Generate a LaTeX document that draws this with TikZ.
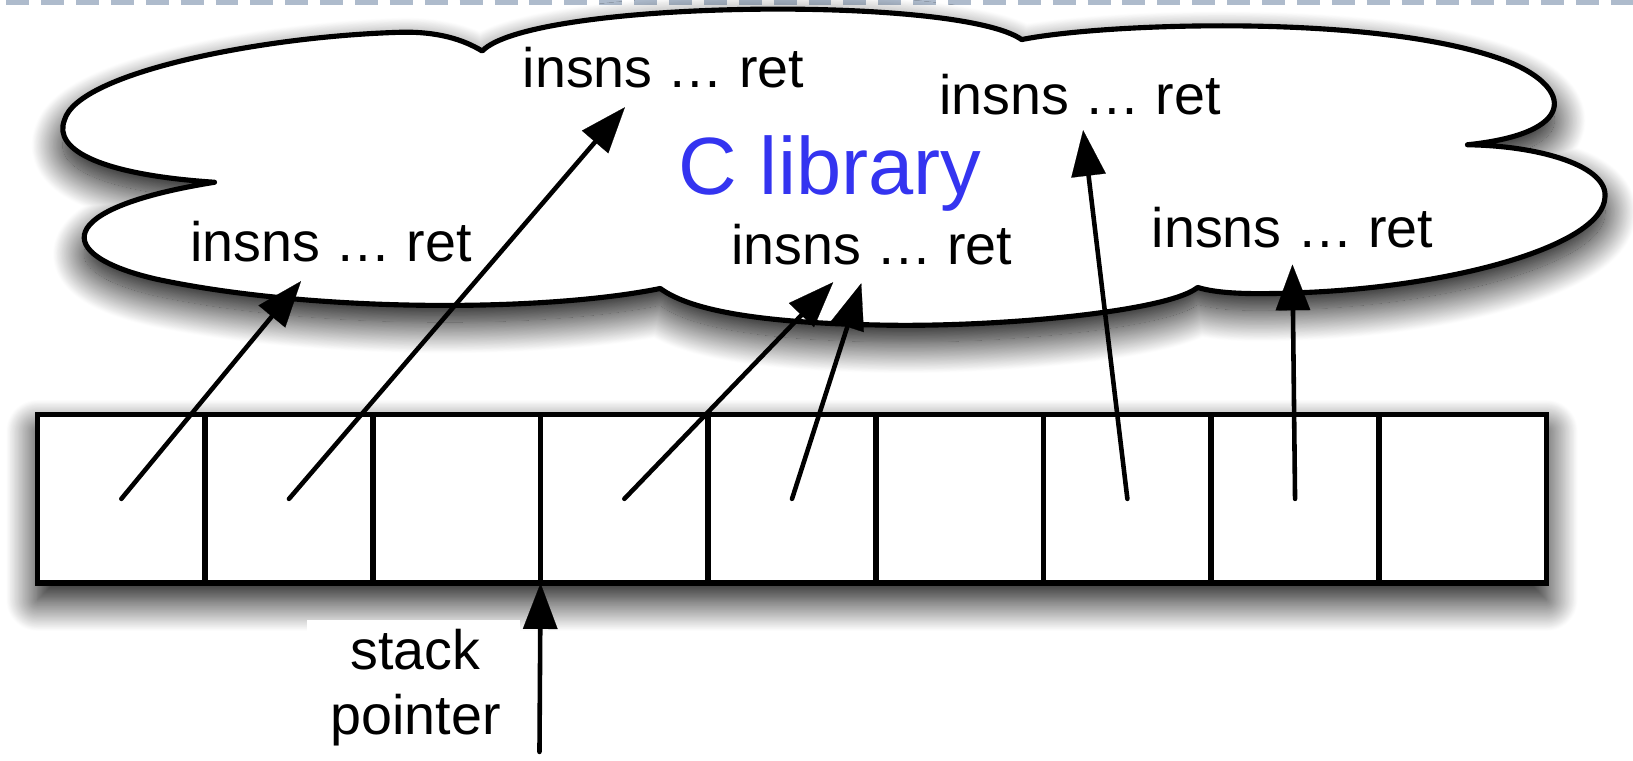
\documentclass[tikz,border=0pt]{standalone}
\usepackage{fontspec}
\setmainfont{Liberation Sans}
\usetikzlibrary{arrows.meta,shadows.blur}
\definecolor{clib}{RGB}{52,52,240}
\definecolor{dashc}{RGB}{174,187,204}
\begin{document}
\begin{tikzpicture}[x=0.02cm,y=-0.02cm,
  cell/.style={draw=black,line width=3pt,fill=white,minimum width=3.22cm,minimum height=3.24cm,inner sep=0pt,outer sep=0pt},
  ptr/.style={draw=black,line width=2.5pt,line cap=round,draw opacity=1,fill opacity=1,
    -{Triangle[length=25pt,width=19pt,fill=black,line width=0.1pt]}},
  lbl/.style={font=\fontsize{30.4}{35.7}\selectfont,inner sep=0pt,anchor=base},
  cloudline/.style={draw=black,line width=2.8pt,fill=white,line join=round},
  shadowstyle/.style={blur shadow={shadow xshift=0pt,shadow yshift=-0.32cm,shadow blur radius=0.6cm,shadow opacity=100,shadow blur steps=40}}
]
\useasboundingbox (0,0) rectangle (1568,730);
% top dashed rule
\draw[dashc,line width=2.7pt,dash pattern=on 0.44cm off 0.23cm,dash phase=-0.12cm] (0,2) -- (1568,2);
% cloud
\path[cloudline,shadowstyle] (463,49)
  .. controls (510,0) and (920,-5) .. (981,38)
  .. controls (1060,22) and (1330,12) .. (1450,60)
  .. controls (1510,85) and (1515,128) .. (1409,139)
  .. controls (1480,140) and (1545,160) .. (1541,190)
  .. controls (1538,235) and (1400,275) .. (1250,281)
  .. controls (1200,283) and (1170,282) .. (1150,276)
  .. controls (1120,300) and (950,315) .. (840,312)
  .. controls (740,310) and (665,300) .. (634,277)
  .. controls (520,300) and (300,300) .. (150,268)
  .. controls (50,245) and (50,200) .. (206,175)
  .. controls (100,168) and (50,145) .. (62,115)
  .. controls (75,70) and (250,35) .. (384,31)
  .. controls (420,30) and (445,38) .. (463,49) -- cycle;
% stack row
\path[fill=white,shadowstyle] (36,398) rectangle (1485,560);
\foreach \i in {1,...,9} \node[cell] (c\i) at ({36+(\i-0.5)*161},479) {};
% labels
\node[lbl] (t1) at (637,84) {insns … ret};
\node[lbl] (t2) at (1037,110) {insns … ret};
\node[lbl,font=\fontsize{44.4}{50}\selectfont,text=clib] (cl) at (797,187) {C library};
\node[lbl] (t3) at (318,251) {insns … ret};
\node[lbl] (t4) at (837,254) {insns … ret};
\node[lbl] (t5) at (1241,238) {insns … ret};
% arrow tips
\coordinate (e1) at (289,270);
\coordinate (e2) at (600,103);
\coordinate (e3) at (800,271);
\coordinate (e4) at (827,272);
\coordinate (e5) at (1040,125);
\coordinate (e6) at (1241,254);
\draw[ptr] (c1.center) -- (e1);
\draw[ptr] (c2.center) -- (e2);
\draw[ptr] (c4.center) -- (e3);
\draw[ptr] (c5.center) -- (e4);
\draw[ptr] (c7.center) -- (e5);
\draw[ptr] (c8.center) -- (e6);
% stack pointer
\fill[white] (295,595) rectangle (499,730);
\node[lbl,anchor=center,align=center] (sp) at (399,660) {stack\\pointer};
\coordinate (spb) at (518,722);
\draw[ptr] (spb) -- (c4.south west);
\end{tikzpicture}
\end{document}
